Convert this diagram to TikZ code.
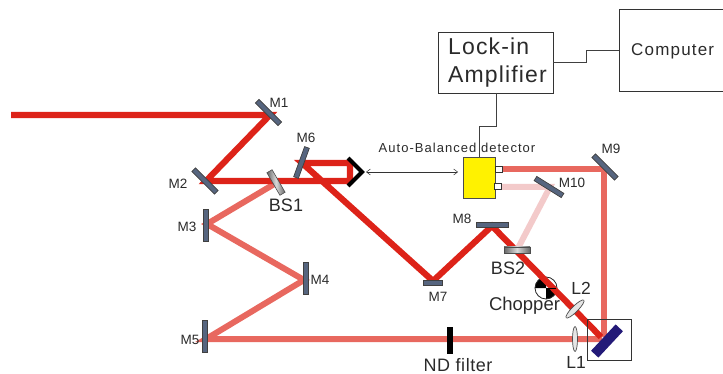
\documentclass[tikz,border=0pt]{standalone}
\usepackage{fontspec}
\setmainfont{Liberation Sans}
\usetikzlibrary{arrows.meta,shapes.geometric}
\definecolor{beamred}{HTML}{DD2319}
\definecolor{beamsalmon}{HTML}{E8685F}
\definecolor{beampink}{HTML}{F3CACA}
\definecolor{mirrorblue}{HTML}{56657F}
\definecolor{navyplate}{HTML}{231A78}
\definecolor{textgrey}{HTML}{2A2A2A}
\begin{document}
\begin{tikzpicture}[x=1pt,y=-1pt,
  beamA/.style={draw=beamred,line width=6.2pt,line join=miter},
  beamB/.style={draw=beamsalmon,line width=6pt,line join=miter},
  beamC/.style={draw=beampink,line width=6pt},
  mirror/.style={draw=black!75,fill=mirrorblue,line width=0.7pt,minimum width=32pt,minimum height=5pt,inner sep=0pt,outer sep=0pt},
  splitter/.style={draw=black!70,left color=black!60,right color=black!60,middle color=white!70!gray,line width=0.6pt,minimum width=26pt,minimum height=6pt,inner sep=0pt,outer sep=0pt},
  lab/.style={text=textgrey,font=\fontsize{13.5}{13.5}\selectfont,inner sep=0pt},
  labbig/.style={text=textgrey,font=\fontsize{18}{18}\selectfont,inner sep=0pt},
  wire/.style={draw=black!75,line width=0.8pt},
  boxline/.style={draw=black!80,line width=0.9pt},
  lens/.style={ellipse,draw=black!70,fill=black!10,line width=0.7pt,inner sep=0pt,outer sep=0pt}]
\useasboundingbox (0,0) rectangle (723,374);
% beam coordinates
\coordinate (start) at (11,115);
\coordinate (pM1) at (270,115);
\coordinate (pM2) at (206,181);
\coordinate (pRa) at (350,181);
\coordinate (pRb) at (350,163);
\coordinate (pM6) at (302,163);
\coordinate (pM7) at (433,281);
\coordinate (pM8) at (492,226);
\coordinate (pBS1) at (276,183);
\coordinate (pM3) at (207,224);
\coordinate (pM4) at (304,280);
\coordinate (pM5) at (206,339);
\coordinate (pS) at (602,339);
\coordinate (pM9) at (604,169);
\coordinate (pBS2) at (517,250);
\coordinate (pM10) at (550,187);
% chopper
\coordinate (chop) at (546,288);
\fill[white] (chop) circle (11);
\fill[black] (chop) -- (535,288) arc[start angle=180,end angle=270,radius=11] -- cycle;
\fill[black] (chop) -- (557,288) arc[start angle=0,end angle=90,radius=11] -- cycle;
\draw[black!85,line width=0.8pt] (chop) circle (11);
% beams
\draw[beamB] (pBS1) -- (pM3) -- (pM4) -- (pM5) -- (pS);
\draw[beamC] (pBS2) -- (pM10) -- (502,187);
\draw[beamB] (502,169) -- (pM9) -- (604,337);
\draw[beamA] (start) -- (pM1) -- (pM2) -- (pRa) -- (pRb) -- (pM6) -- (pM7) -- (pM8) -- (601,337);
\draw[black,line width=0.9pt] (chop) -- (556,288);
% mirrors
\node[mirror,rotate=-45] (M1) at (268.5,112.5) {};
\node[mirror,rotate=-45] (M2) at (205,181) {};
\node[mirror,rotate=90] (M3) at (206,225) {};
\node[mirror,rotate=90] (M4) at (305.5,278.5) {};
\node[mirror,rotate=90] (M5) at (204.5,336.5) {};
\node[mirror,rotate=70] (M6) at (301.5,162.5) {};
\node[mirror,minimum width=19pt] (M7) at (433,282.5) {};
\node[mirror] (M8) at (492,224.5) {};
\node[mirror,rotate=-45] (M9) at (605,167) {};
\node[mirror,rotate=-32] (M10) at (549,187) {};
\node[splitter,rotate=-60] (BS1) at (276,182.5) {};
\node[splitter] (BS2) at (517,250) {};
% retroreflector
\coordinate (rA) at (348,158);
\coordinate (rB) at (362,172);
\coordinate (rC) at (348,186);
\draw[black,line width=4pt,line cap=butt,line join=miter] (rA) -- (rB) -- (rC);
% stage arrow
\coordinate (arrL) at (366,172);
\coordinate (arrR) at (458,172);
\draw[black!80,line width=0.5pt,{Straight Barb[length=4pt,width=6pt]}-{Straight Barb[length=4pt,width=6pt]}] (arrL) -- (arrR);
% detector
\node[draw=black!70,fill=yellow,line width=0.8pt,minimum width=32pt,minimum height=41pt,inner sep=0pt,outer sep=0pt] (det) at (479,177.5) {};
\node[draw=black!80,fill=white,line width=0.7pt,minimum width=7pt,minimum height=6pt,inner sep=0pt] (pa) at (498.5,169) {};
\node[draw=black!80,fill=white,line width=0.7pt,minimum width=7pt,minimum height=6pt,inner sep=0pt] (pb) at (498,186) {};
% boxes
\node[boxline,minimum width=115pt,minimum height=61pt,inner sep=0pt,outer sep=0pt] (lock) at (495.5,62.5) {};
\node[labbig,anchor=base west,font=\fontsize{23}{23}\selectfont] (lockA) at (448,55) {\addfontfeatures{LetterSpace=5}Lock-in};
\node[labbig,anchor=base west,font=\fontsize{23}{23}\selectfont] (lockB) at (448,83) {\addfontfeatures{LetterSpace=5}Amplifier};
\coordinate (cNW) at (619,9);
\coordinate (cSW) at (619,91);
\draw[boxline] (723,9) -- (cNW) -- (cSW) -- (723,91);
\node[text=textgrey,font=\fontsize{17}{17}\selectfont,inner sep=0pt,anchor=base west] (computer) at (631,56) {\addfontfeatures{LetterSpace=7}Computer};
% wires
\coordinate (w1) at (553,62);
\coordinate (w2) at (619,50);
\draw[wire] (w1) -- (586,62) -- (586,50) -- (w2);
\coordinate (w3) at (496,93);
\coordinate (w4) at (479,157);
\draw[wire] (w3) -- (496,126) -- (479,126) -- (w4);
% optics
\node[lens,minimum width=25pt,minimum height=6pt,rotate=45] (L2) at (575,309) {};
\node[lens,minimum width=5pt,minimum height=25pt] (L1) at (575,339) {};
\node[draw=black!80,line width=0.8pt,minimum width=44pt,minimum height=41pt,inner sep=0pt,outer sep=0pt] (sample) at (609,339.5) {};
\node[draw=none,fill=navyplate,minimum width=36pt,minimum height=10pt,inner sep=0pt,rotate=47] (plate) at (607,341) {};
\node[draw=none,fill=black,minimum width=6pt,minimum height=27pt,inner sep=0pt] (ND) at (450,340.5) {};
% labels
\node[lab] (tM1) at (279,103) {M1};
\node[lab] (tM2) at (178,184) {M2};
\node[lab] (tM3) at (187,227) {M3};
\node[lab] (tM4) at (320,280) {M4};
\node[lab] (tM5) at (190,340) {M5};
\node[lab] (tM6) at (306,138) {M6};
\node[lab] (tM7) at (438,297) {M7};
\node[lab] (tM8) at (462,219) {M8};
\node[lab] (tM9) at (611,149) {M9};
\node[lab] (tM10) at (572,183) {M10};
\node[labbig] (tBS1) at (286,205) {BS1};
\node[labbig] (tBS2) at (508,268) {BS2};
\node[labbig,font=\fontsize{17.5}{17.5}\selectfont] (tL2) at (581,288) {L2};
\node[labbig,font=\fontsize{17.5}{17.5}\selectfont] (tL1) at (576,362) {L1};
\node[labbig,font=\fontsize{18.5}{18.5}\selectfont] (tchop) at (524.5,305.5) {Chopper};
\node[labbig,font=\fontsize{18}{18}\selectfont] (tND) at (458,365) {\addfontfeatures{LetterSpace=3}ND filter};
\node[lab,font=\fontsize{13}{13}\selectfont] (tauto) at (457,148) {\addfontfeatures{LetterSpace=8}Auto-Balanced detector};
\end{tikzpicture}
\end{document}
